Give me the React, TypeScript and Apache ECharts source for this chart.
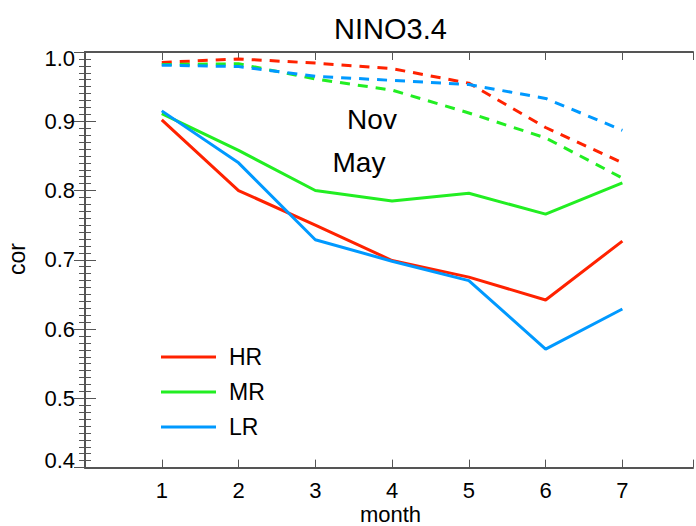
import React, { useEffect, useRef } from "react";
import * as echarts from "echarts";

const months = [1, 2, 3, 4, 5, 6, 7];
const hrMay = [0.902, 0.8, 0.75, 0.699, 0.675, 0.642, 0.727];
const mrMay = [0.911, 0.858, 0.8, 0.785, 0.796, 0.766, 0.811];
const lrMay = [0.915, 0.84, 0.729, 0.698, 0.67, 0.571, 0.629];
const hrNov = [0.985, 0.99, 0.984, 0.976, 0.955, 0.891, 0.84];
const mrNov = [0.982, 0.983, 0.961, 0.945, 0.912, 0.876, 0.818];
const lrNov = [0.981, 0.979, 0.965, 0.959, 0.953, 0.933, 0.887];

const RED = "#ff2200";
const GREEN = "#22ee22";
const BLUE = "#0099ff";
const FONT = "'Liberation Sans', Arial, Helvetica, sans-serif";
const AXIS = "#555555";

const pairs = (vals: number[]) => months.map((m, i) => [m, vals[i]]);

export default function App() {
  const ref = useRef<HTMLDivElement>(null);
  useEffect(() => {
    document.body.style.margin = "0";
    const chart = echarts.init(ref.current!, null, { renderer: "svg" });
    const solid = (name: string, color: string, vals: number[]) => ({
      name,
      type: "line",
      data: pairs(vals),
      symbol: "none",
      lineStyle: { color, width: 3 },
      itemStyle: { color },
    });
    const dashed = (name: string, color: string, vals: number[]) => ({
      name,
      type: "line",
      data: pairs(vals),
      symbol: "none",
      lineStyle: { color, width: 3, type: [10, 8] },
      itemStyle: { color },
    });
    const yLabelFmt = (v: number) => {
      const s = v.toFixed(1);
      if (Math.abs(v - 1.0) < 1e-6) return "{top|" + s + "}";
      if (Math.abs(v - 0.4) < 1e-6) return "{bot|" + s + "}";
      return s;
    };
    chart.setOption({
      animation: false,
      textStyle: { fontFamily: FONT },
      grid: { left: 85, top: 52, right: 1, bottom: 58.4, containLabel: false },
      legend: {
        data: ["HR", "MR", "LR"],
        orient: "vertical",
        left: 161,
        top: 345.5,
        padding: 0,
        itemGap: 12,
        itemWidth: 55,
        itemHeight: 3,
        icon: "rect",
        textStyle: {
          fontSize: 23,
          lineHeight: 23,
          color: "#000",
          fontFamily: FONT,
          padding: [0, 0, 0, 8],
        },
      },
      xAxis: [
        {
          type: "value",
          min: 0,
          max: 7.92,
          interval: 1,
          position: "bottom",
          splitLine: { show: false },
          axisLine: { show: true, lineStyle: { color: AXIS, width: 2 } },
          axisTick: { show: true, inside: true, length: 8, lineStyle: { color: AXIS, width: 1 } },
          axisLabel: {
            fontSize: 22,
            lineHeight: 22,
            color: "#000",
            fontFamily: FONT,
            margin: 12,
            formatter: (v: number) => (Number.isInteger(v) && v >= 1 && v <= 7 ? String(v) : ""),
          },
        },
        {
          type: "value",
          min: 0,
          max: 7.92,
          interval: 1,
          position: "top",
          splitLine: { show: false },
          axisLine: { show: true, lineStyle: { color: AXIS, width: 2 } },
          axisTick: { show: true, inside: true, length: 8, lineStyle: { color: AXIS, width: 1 } },
          axisLabel: { show: false },
        },
      ],
      yAxis: [
        {
          type: "value",
          min: 0.4,
          max: 1.0,
          interval: 0.1,
          position: "left",
          splitLine: { show: false },
          axisLine: { show: true, lineStyle: { color: AXIS, width: 2 } },
          axisTick: { show: true, inside: true, length: 11, lineStyle: { color: AXIS, width: 1 } },
          minorTick: { show: true, splitNumber: 10, length: 6, lineStyle: { color: AXIS, width: 1 } },
          axisLabel: {
            fontSize: 22,
            color: "#000",
            fontFamily: FONT,
            margin: 10,
            formatter: yLabelFmt,
            rich: {
              top: { fontSize: 22, fontFamily: FONT, color: "#000", padding: [12, 0, 0, 0] },
              bot: { fontSize: 22, fontFamily: FONT, color: "#000", padding: [0, 0, 15, 0] },
            },
          },
        },
        {
          type: "value",
          min: 0.4,
          max: 1.0,
          interval: 0.1,
          position: "right",
          splitLine: { show: false },
          axisLine: { show: true, lineStyle: { color: AXIS, width: 2 } },
          axisTick: { show: true, inside: true, length: 11, lineStyle: { color: AXIS, width: 1 } },
          minorTick: { show: true, splitNumber: 10, length: 6, lineStyle: { color: AXIS, width: 1 } },
          axisLabel: { show: false },
        },
      ],
      series: [
        dashed("HR Nov", RED, hrNov),
        dashed("MR Nov", GREEN, mrNov),
        dashed("LR Nov", BLUE, lrNov),
        solid("HR", RED, hrMay),
        solid("MR", GREEN, mrMay),
        solid("LR", BLUE, lrMay),
      ],
      graphic: [
        {
          type: "text",
          x: 390.5,
          y: 29,
          style: { text: "NINO3.4", fontSize: 29, fontFamily: FONT, fill: "#000", align: "center", verticalAlign: "middle" },
        },
        {
          type: "text",
          x: 372,
          y: 119,
          style: { text: "Nov", fontSize: 28, fontFamily: FONT, fill: "#000", align: "center", verticalAlign: "middle" },
        },
        {
          type: "text",
          x: 359,
          y: 162,
          style: { text: "May", fontSize: 28, fontFamily: FONT, fill: "#000", align: "center", verticalAlign: "middle" },
        },
        {
          type: "text",
          x: 390.5,
          y: 514,
          style: { text: "month", fontSize: 22, lineHeight: 22, fontFamily: FONT, fill: "#000", align: "center", verticalAlign: "middle" },
        },
        {
          type: "text",
          x: 17,
          y: 259,
          rotation: Math.PI / 2,
          style: { text: "cor", fontSize: 23, fontFamily: FONT, fill: "#000", align: "center", verticalAlign: "middle" },
        },
      ],
    });
    return () => chart.dispose();
  }, []);
  return <div ref={ref} style={{ width: 696, height: 526 }} />;
}
